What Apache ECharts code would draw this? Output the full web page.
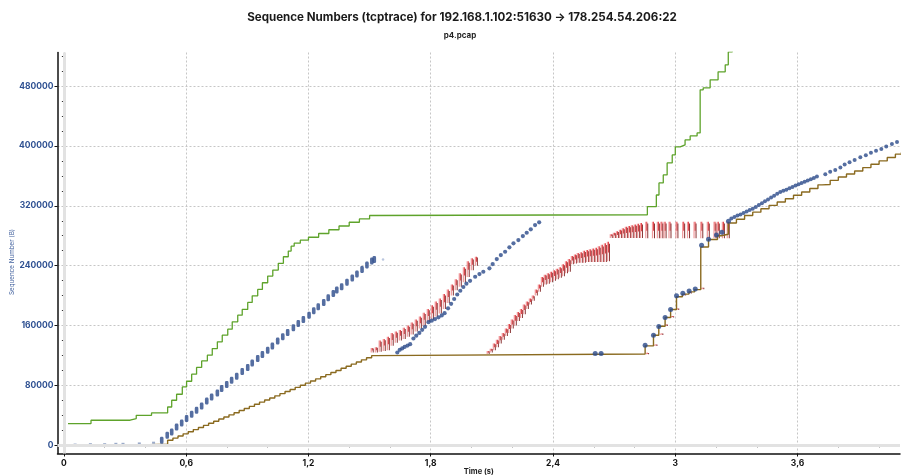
<!DOCTYPE html>
<html><head><meta charset="utf-8">
<script src="https://cdn.jsdelivr.net/npm/echarts@6/dist/echarts.min.js"></script>
<style>html,body{margin:0;padding:0;background:#fff}#c{width:901px;height:476px}</style>
</head><body><div id="c"></div>
<script>
const titleText = 'Sequence Numbers (tcptrace) for 192.168.1.102:51630 \u2192 178.254.54.206:22';
const subtitleText = 'p4.pcap';
const xName = 'Time (s)';
const yName = 'Sequence Number (B)';
const xTicks = [0, 0.6, 1.2, 1.8, 2.4, 3, 3.6];
const xMinorTicks = [0.2, 0.4, 0.8, 1.0, 1.4, 1.6, 2.0, 2.2, 2.6, 2.8, 3.2, 3.4, 3.8, 4.0];
const yTicks = [0, 80000, 160000, 240000, 320000, 400000, 480000];
const yMinorTicks = [20000, 40000, 60000, 100000, 120000, 140000, 180000, 200000, 220000, 260000, 280000, 300000, 340000, 360000, 380000, 420000, 440000, 460000, 500000, 520000];

// receive window (green step line)
const windowLine = [[0.02,29000],[0.133,33500],[0.325,35700],[0.355,40100],[0.43,43200],[0.509,51200],[0.529,60200],[0.553,68200],[0.581,78000],[0.602,85600],[0.627,95000],[0.651,104000],[0.676,112800],[0.704,120400],[0.728,129300],[0.753,138200],[0.777,147200],[0.804,155200],[0.826,165000],[0.853,173900],[0.875,181500],[0.902,190900],[0.924,199700],[0.951,208300],[0.974,217200],[1.000,226100],[1.025,234100],[1.052,243100],[1.077,251900],[1.101,259500],[1.115,266000],[1.13,270000],[1.16,274000],[1.2,278000],[1.25,283000],[1.3,288000],[1.35,293000],[1.4,298000],[1.45,302500],[1.5,307000],[1.512,308000],[2.863,318800],[2.907,334400],[2.92,350500],[2.941,361200],[2.96,377300],[2.985,388000],[3.0,398700],[3.024,401300],[3.048,408000],[3.073,413400],[3.107,417400],[3.122,474900],[3.137,477600],[3.171,488300],[3.21,499000],[3.245,508400],[3.26,525800],[3.28,540000]];

// ack line (brown step line)
const ackLine = [[0.02,0],[0.33,1500],[0.509,6700],[0.535,9600],[0.56,12500],[0.585,15300],[0.61,18100],[0.635,21000],[0.66,23800],[0.685,26600],[0.71,29400],[0.735,32200],[0.76,35100],[0.785,37900],[0.81,40700],[0.835,43500],[0.86,46400],[0.885,49200],[0.91,52000],[0.935,54800],[0.96,57700],[0.985,60500],[1.01,63300],[1.035,66100],[1.06,69000],[1.085,71800],[1.11,74600],[1.135,77400],[1.16,80300],[1.185,83100],[1.21,85900],[1.235,88700],[1.26,91600],[1.285,94400],[1.31,97200],[1.335,100000],[1.36,102900],[1.385,105700],[1.41,108500],[1.435,111300],[1.46,114200],[1.485,117000],[1.51,119800],[1.527,122000],[2.852,132800],[2.893,147000],[2.919,159000],[2.95,170800],[2.977,181500],[3.006,198400],[3.035,202000],[3.067,205000],[3.095,208000],[3.125,265000],[3.163,275000],[3.207,280000],[3.225,282000],[3.26,297000],[3.30,302000],[3.34,307000],[3.38,311500],[3.42,316000],[3.46,320500],[3.50,325000],[3.54,329500],[3.58,334000],[3.62,338500],[3.66,343000],[3.70,348000],[3.72,348500],[3.76,354000],[3.80,358500],[3.84,362500],[3.88,366500],[3.92,371000],[3.96,375500],[4.00,380000],[4.04,384500],[4.08,389000],[4.11,392000]];

// data segments (blue)
const segIdle = [[0.055,1000],[0.13,1500],[0.2,1500],[0.255,2000],[0.29,2000],[0.37,2500],[0.44,3500]];
const segRun1 = [[0.480,6700],[0.507,13400],[0.529,17800],[0.553,24500],[0.578,29800],[0.602,35700],[0.627,41500],[0.651,46800],[0.676,52600],[0.701,59300],[0.725,64600],[0.753,70000],[0.774,75800],[0.799,81200],[0.823,87000],[0.848,92300],[0.875,98600],[0.902,103900],[0.924,110100],[0.951,116000],[0.974,121300],[1.000,127100],[1.023,132800],[1.049,139500],[1.074,144900],[1.098,150800],[1.126,156900],[1.150,162800],[1.175,168200],[1.203,173900],[1.226,179700],[1.248,185000],[1.275,190900],[1.297,197100],[1.322,202900],[1.339,207400],[1.363,211800],[1.389,217700],[1.415,223400],[1.438,228800],[1.463,235000],[1.487,240800],[1.511,246200],[1.523,248400]];
const segFaint = [[1.566,248400]];
const segRun2 = [[1.636,124000],[1.648,127500],[1.66,129500],[1.672,131500],[1.686,133300],[1.699,135100],[1.715,142700],[1.729,146500],[1.744,150200],[1.758,154300],[1.772,158300],[1.789,164500],[1.805,166500],[1.821,168600],[1.838,171000],[1.854,173500],[1.868,176500],[1.885,183000],[1.90,189000],[1.915,195500],[1.93,201500],[1.945,206500],[1.96,211500],[1.975,216000],[1.993,219800],[2.018,225200],[2.039,228800],[2.058,231900],[2.088,236400],[2.104,242100],[2.124,248800],[2.144,254200],[2.165,258600],[2.186,264500],[2.206,269800],[2.230,274200],[2.252,279600],[2.271,284000],[2.291,288600],[2.312,294300],[2.332,297900]];
const segRecovery = [[2.607,122600],[2.636,122600],[2.852,133800],[2.893,147000],[2.919,158800],[2.95,170800],[2.977,181500],[3.006,199700],[3.037,203000],[3.068,206000],[3.098,208700],[3.129,267200],[3.163,275200],[3.202,281000],[3.229,284500],[3.261,299300]];
const segRun3 = [[3.275,303000],[3.29,305000],[3.305,307000],[3.32,308500],[3.335,310500],[3.35,312500],[3.365,314500],[3.38,316000],[3.395,318500],[3.41,321000],[3.425,323500],[3.44,326000],[3.455,328500],[3.47,331000],[3.485,333500],[3.50,336000],[3.515,338500],[3.53,340000],[3.545,341500],[3.56,343500],[3.575,345000],[3.59,347000],[3.605,348800],[3.62,350500],[3.635,352000],[3.65,353800],[3.665,355500],[3.68,357200],[3.695,359000],[3.736,362000],[3.76,365600],[3.785,367900],[3.81,371000],[3.831,375000],[3.855,378200],[3.880,381300],[3.908,384900],[3.935,387600],[3.96,391000],[3.985,393700],[4.011,396000],[4.035,399100],[4.063,402700],[4.088,405300]];

// SACK blocks (red): [time, left edge, right edge]
const sackA = [[1.512,124000,130000],[1.532,124000,131000],[1.551,125000,140000],[1.571,126000,142000],[1.591,127000,145000],[1.610,133000,150000],[1.630,137000,152000],[1.650,140000,154000],[1.669,142000,157000],[1.689,145000,160000],[1.708,148000,164000],[1.728,152000,168000],[1.748,156000,172000],[1.767,160000,177000],[1.787,165000,182000],[1.807,168000,187000],[1.826,172000,192000],[1.846,176000,196000],[1.866,182000,202000],[1.885,190000,208000],[1.905,200000,215000],[1.924,207000,222000],[1.944,212000,230000],[1.964,218000,238000],[1.983,225000,246000],[2.003,234000,250000],[2.023,240000,252000]];
const sackB = [[2.081,122000,126000],[2.096,124000,129000],[2.111,127000,136000],[2.126,131000,141000],[2.140,136000,146000],[2.155,141000,150000],[2.170,146000,156000],[2.185,150000,162000],[2.199,156000,168000],[2.214,160000,174000],[2.229,166000,178000],[2.244,170000,182000],[2.258,175000,188000],[2.273,182000,192000],[2.288,188000,196000],[2.302,193000,200000],[2.317,200000,208000],[2.332,205000,215000],[2.347,212000,225000],[2.361,215000,228000],[2.376,216000,230000],[2.391,218000,232000],[2.406,220000,234000],[2.420,222000,236000],[2.435,224000,238000],[2.450,226000,242000],[2.465,230000,246000],[2.479,232000,249000],[2.494,242000,253000],[2.509,243000,255000],[2.523,244000,257000],[2.538,244000,258000],[2.553,244000,260000],[2.568,245000,261000],[2.582,245000,262000],[2.597,245000,263000],[2.612,245000,264000],[2.626,245000,266000],[2.641,245000,268000],[2.656,245000,270000],[2.671,246000,272000],[2.685,277000,282000],[2.700,277000,284000],[2.715,277000,286000],[2.730,277000,288000],[2.744,277000,290000],[2.759,277000,292000],[2.774,277000,293000],[2.788,277000,294000],[2.803,277000,295000],[2.818,277000,296000],[2.833,277000,297000]];
const sackFlat = [[2.859,276500,298700],[2.892,276500,298700],[2.916,276500,298700],[2.933,276500,298700],[2.949,276500,298700],[2.973,276500,298700],[3.007,276500,298700],[3.040,276500,298700],[3.064,276500,298700],[3.096,276500,298700],[3.129,276500,298700],[3.161,276500,298700],[3.194,276500,298700],[3.210,276500,298700],[3.235,276500,298700],[3.259,276500,298700]];
const sackDots = [[2.863,121500,123500],[2.904,132800,134800],[2.933,147500,149500],[2.955,159500,161500],[2.986,170600,172600],[3.011,180900,182900],[3.045,200100,202100],[3.073,202700,204700],[3.134,208600,210600]];

const X_MIN = -0.0314, X_MAX = 4.1026, Y_MIN = -10950, Y_MAX = 524800;
const BLUE = '#2a4a8a', GREEN = '#5ea32b', BROWN = '#8a6a1f';
const gridRect = {left: 57.5, right: 1, top: 52.5, bottom: 22.5, containLabel: false, outerBoundsMode: 'none'};
const fmtX = v => String(Math.round(v * 10) / 10).replace('.', ',');
const fmtY = v => String(Math.round(v));

function sackRender(params, api) {
  const t = api.value(0), lo = api.value(1), hi = api.value(2);
  const p1 = api.coord([t, lo]), p2 = api.coord([t, hi]);
  const h = Math.max(1.5, p1[1] - p2[1]);
  const x = p1[0], top = p1[1] - h;
  return {type: 'group', children: [
    {type: 'rect', shape: {x: x - 1.4, y: top, width: 1.2, height: h}, style: {fill: 'rgba(238,130,132,0.8)'}},
    {type: 'rect', shape: {x: x - 0.2, y: top, width: 0.9, height: h * 0.55}, style: {fill: 'rgba(222,30,38,0.9)'}},
    {type: 'rect', shape: {x: x + 0.7, y: top + h * 0.1, width: 1.0, height: h * 0.9}, style: {fill: 'rgba(115,14,14,0.85)'}}
  ]};
}
function sackSeries(data) {
  return {type: 'custom', renderItem: sackRender, data: data, encode: {x: 0, y: [1, 2]}, z: 2, silent: true, clip: true};
}

const chart = echarts.init(document.getElementById('c'), null, {renderer: 'canvas'});
chart.setOption({
  animation: false,
  backgroundColor: '#ffffff',
  graphic: [
    {type: 'text', x: 462, y: 18, style: {text: titleText, fill: '#1a1a1a', font: 'bold 11.6px Inter', align: 'center', verticalAlign: 'middle'}},
    {type: 'text', x: 460, y: 36, style: {text: subtitleText, fill: '#222', font: 'bold 8px Inter', align: 'center', verticalAlign: 'middle'}},
    {type: 'text', x: 12, y: 262, rotation: Math.PI / 2, style: {text: yName, fill: '#44639f', font: '6.3px Inter', align: 'center', verticalAlign: 'middle'}}
  ],
  grid: [Object.assign({}, gridRect), Object.assign({}, gridRect)],
  xAxis: [
    {type: 'value', gridIndex: 0, min: X_MIN, max: X_MAX, name: xName, nameLocation: 'middle', nameGap: 18, nameMoveOverlap: false,
     nameTextStyle: {color: '#222', fontSize: 7.5, fontWeight: 'bold', fontFamily: 'Inter', verticalAlign: 'middle'},
     axisLine: {show: true, onZero: false, lineStyle: {color: '#111', width: 1.5}},
     axisTick: {show: true, customValues: xTicks, length: 3, lineStyle: {color: '#111'}},
     axisLabel: {customValues: xTicks, formatter: fmtX, color: '#111', fontSize: 8.5, fontWeight: 'bold', fontFamily: 'Inter', margin: 5},
     splitLine: {show: true, lineStyle: {color: '#c6c6c6', type: [2, 2], width: 1}}},
    {type: 'value', gridIndex: 1, min: X_MIN, max: X_MAX,
     axisLine: {show: false}, axisLabel: {show: false}, splitLine: {show: false},
     axisTick: {show: true, customValues: xMinorTicks, length: 2, lineStyle: {color: '#333'}}}
  ],
  yAxis: [
    {type: 'value', gridIndex: 0, min: Y_MIN, max: Y_MAX,
     axisLine: {show: true, onZero: false, lineStyle: {color: '#111', width: 1.5}},
     axisTick: {show: true, customValues: yTicks, length: 3, lineStyle: {color: '#111'}},
     axisLabel: {customValues: yTicks, formatter: fmtY, color: '#2f5192', fontSize: 8.5, fontWeight: 'bold', fontFamily: 'Inter', margin: 4},
     splitLine: {show: true, lineStyle: {color: '#c6c6c6', type: [2, 2], width: 1}}},
    {type: 'value', gridIndex: 1, min: Y_MIN, max: Y_MAX,
     axisLine: {show: false}, axisLabel: {show: false}, splitLine: {show: false},
     axisTick: {show: true, customValues: yMinorTicks, length: 2, lineStyle: {color: '#333'}}}
  ],
  series: [
    {type: 'scatter', data: [], z: 1, silent: true,
     markLine: {silent: true, symbol: 'none', label: {show: false}, animation: false,
       lineStyle: {color: '#e2e2e2', width: 3, type: 'solid'},
       data: [{xAxis: 0}, {yAxis: 0}]}},
    sackSeries(sackA),
    sackSeries(sackB),
    sackSeries(sackFlat),
    sackSeries(sackDots),
    {type: 'line', data: windowLine, step: 'end', showSymbol: false, symbol: 'none', z: 3, clip: true,
     lineStyle: {color: GREEN, width: 1.3}},
    {type: 'line', data: ackLine, step: 'end', showSymbol: false, symbol: 'none', z: 3, clip: true,
     lineStyle: {color: BROWN, width: 1.4}},
    {type: 'scatter', data: segIdle, symbol: 'rect', symbolSize: [3, 2], itemStyle: {color: 'rgba(43,77,142,0.6)'}, z: 4},
    {type: 'scatter', data: segRun1, symbol: 'roundRect', symbolSize: [3.6, 7], itemStyle: {color: BLUE}, z: 4},
    {type: 'scatter', data: segFaint, symbol: 'circle', symbolSize: 2.5, itemStyle: {color: '#a9b8d6'}, z: 4},
    {type: 'scatter', data: segRun2, symbol: 'circle', symbolSize: 4.2, itemStyle: {color: BLUE}, z: 4},
    {type: 'scatter', data: segRecovery, symbol: 'circle', symbolSize: 5, itemStyle: {color: BLUE}, z: 4},
    {type: 'scatter', data: segRun3, symbol: 'circle', symbolSize: 4, itemStyle: {color: BLUE}, z: 4}
  ]
});
</script></body></html>
